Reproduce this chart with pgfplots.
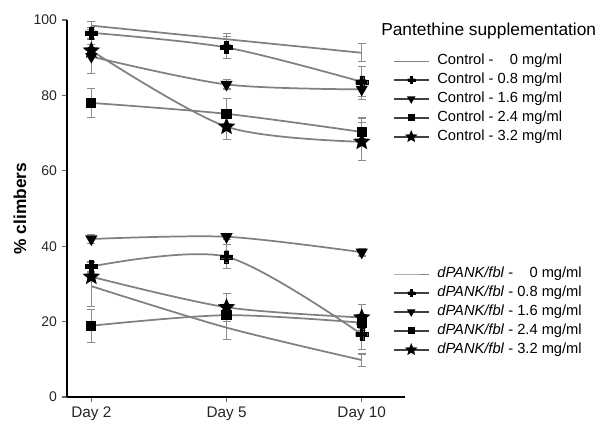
\documentclass[border=0pt]{standalone}
\usepackage{fontspec}
\setmainfont{Liberation Sans}
\usepackage{pgfplots}
\pgfplotsset{compat=1.18}
\definecolor{ln}{RGB}{128,128,128}
\definecolor{eb}{RGB}{140,140,140}

\pgfdeclareplotmark{fstar}{%
 \pgfpathmoveto{\pgfpointpolar{90}{\pgfplotmarksize}}%
 \pgfpathlineto{\pgfpointpolar{126}{0.45\pgfplotmarksize}}%
 \pgfpathlineto{\pgfpointpolar{162}{\pgfplotmarksize}}%
 \pgfpathlineto{\pgfpointpolar{198}{0.45\pgfplotmarksize}}%
 \pgfpathlineto{\pgfpointpolar{234}{\pgfplotmarksize}}%
 \pgfpathlineto{\pgfpointpolar{270}{0.45\pgfplotmarksize}}%
 \pgfpathlineto{\pgfpointpolar{306}{\pgfplotmarksize}}%
 \pgfpathlineto{\pgfpointpolar{342}{0.45\pgfplotmarksize}}%
 \pgfpathlineto{\pgfpointpolar{18}{\pgfplotmarksize}}%
 \pgfpathlineto{\pgfpointpolar{54}{0.45\pgfplotmarksize}}%
 \pgfpathclose\pgfusepathqfillstroke}

\pgfdeclareplotmark{fplus}{%
 \pgfpathmoveto{\pgfpoint{-0.33\pgfplotmarksize}{\pgfplotmarksize}}%
 \pgfpathlineto{\pgfpoint{0.33\pgfplotmarksize}{\pgfplotmarksize}}%
 \pgfpathlineto{\pgfpoint{0.33\pgfplotmarksize}{0.33\pgfplotmarksize}}%
 \pgfpathlineto{\pgfpoint{\pgfplotmarksize}{0.33\pgfplotmarksize}}%
 \pgfpathlineto{\pgfpoint{\pgfplotmarksize}{-0.33\pgfplotmarksize}}%
 \pgfpathlineto{\pgfpoint{0.33\pgfplotmarksize}{-0.33\pgfplotmarksize}}%
 \pgfpathlineto{\pgfpoint{0.33\pgfplotmarksize}{-\pgfplotmarksize}}%
 \pgfpathlineto{\pgfpoint{-0.33\pgfplotmarksize}{-\pgfplotmarksize}}%
 \pgfpathlineto{\pgfpoint{-0.33\pgfplotmarksize}{-0.33\pgfplotmarksize}}%
 \pgfpathlineto{\pgfpoint{-\pgfplotmarksize}{-0.33\pgfplotmarksize}}%
 \pgfpathlineto{\pgfpoint{-\pgfplotmarksize}{0.33\pgfplotmarksize}}%
 \pgfpathlineto{\pgfpoint{-0.33\pgfplotmarksize}{0.33\pgfplotmarksize}}%
 \pgfpathclose\pgfusepathqfillstroke}

\pgfplotsset{
 base/.style={width=253.5pt,height=282.75pt,scale only axis,
   xmin=-0.18,xmax=2.32,ymin=0,ymax=100,
   at={(50.25pt,19.5pt)},anchor=south west,clip=false,
   legend image code/.code={\draw[mark repeat=2,mark phase=2] plot coordinates {(0pt,0pt)(13pt,0pt)(26pt,0pt)};},
   legend style={draw=none,fill=none,inner sep=0pt,
     font=\fontsize{11}{13}\selectfont,row sep=4pt,column sep=6pt,
     nodes={inner sep=0pt,text height=8pt,text depth=2.2pt},
     cells={anchor=west}},
 },
 ser/.style={ln,line width=1.3pt,smooth,forget plot,
   mark options={black,solid},
   error bars/y dir=both, error bars/y explicit,
   error bars/error bar style={eb,line width=0.8pt},
   error bars/error mark options={rotate=90,eb,mark size=3pt,line width=0.8pt}},
 mplus/.style={mark=fplus,mark size=4.5pt,mark options={black,line width=0.3pt}},
 mtri/.style={mark=triangle*,mark size=4pt,mark options={black,rotate=180}},
 msq/.style={mark=square*,mark size=3.2pt,mark options={black}},
 mstar/.style={mark=fstar,mark size=5.2pt,mark options={black}},
 lplus/.style={mark=fplus,mark size=2.7pt,mark options={black,line width=0.2pt}},
 ltri/.style={mark=triangle*,mark size=2.5pt,mark options={black,rotate=180}},
 lsq/.style={mark=square*,mark size=2.1pt,mark options={black}},
 lstar/.style={mark=fstar,mark size=3.4pt,mark options={black}},
 limg/.style={black!75,line width=1.2pt},
}

\begin{document}
\begin{tikzpicture}
\useasboundingbox (0,0) rectangle (450pt,317.25pt);
\begin{axis}[base,
  axis x line=bottom, axis y line=left,
  axis line style={-,black,line width=1.3pt},
  tick align=outside, major tick length=4pt,
  tick style={black!60,line width=0.8pt},
  xtick={0,1,2}, xticklabels={Day 2,Day 5,Day 10},
  ytick={0,20,40,60,80,100},
  /pgf/number format/assume math mode=true,
  xticklabel style={font=\fontsize{11.5}{13}\selectfont,text=black!85},
  yticklabel style={font=\fontsize{10.5}{12}\selectfont,text=black!85},
  ylabel={\% climbers},
  ylabel style={font=\fontsize{13}{15}\selectfont\bfseries,at={(axis description cs:-0.139,0.5)},anchor=center},
  legend style={at={(0.964,0.91)},anchor=north west},
]
\addplot[ser] coordinates {(0,98.5)+-(0,1.0) (1,94.9)+-(0,1.5) (2,91.3)+-(0,2.4)};
\addplot[ser,mplus] coordinates {(0,96.6)+-(0,1.5) (1,92.7)+-(0,2.9) (2,83.6)+-(0,4.0)};
\addplot[ser,mtri] coordinates {(0,90.3)+-(0,4.6) (1,82.9)+-(0,1.2) (2,81.6)+-(0,2.6)};
\addplot[ser,msq] coordinates {(0,78.0)+-(0,3.9) (1,75.1)+-(0,4.0) (2,70.3)+-(0,3.7)};
\addplot[ser,mstar] coordinates {(0,91.9)+-(0,1.5) (1,71.7)+-(0,3.5) (2,67.7)+-(0,5.0)};
\addlegendimage{ln,line width=0.6pt}
\addlegendentry{Control - \hphantom{0.}0 mg/ml}
\addlegendimage{limg,lplus}
\addlegendentry{Control - 0.8 mg/ml}
\addlegendimage{limg,ltri}
\addlegendentry{Control - 1.6 mg/ml}
\addlegendimage{limg,lsq}
\addlegendentry{Control - 2.4 mg/ml}
\addlegendimage{limg,lstar}
\addlegendentry{Control - 3.2 mg/ml}
\end{axis}
\begin{axis}[base,hide axis,
  legend style={at={(0.964,0.345)},anchor=north west},
]
\addplot[ser] coordinates {(0,29.4)+-(0,5.5) (1,18.4)+-(0,3.1) (2,9.8)+-(0,1.6)};
\addplot[ser,mplus] coordinates {(0,34.6)+-(0,1.2) (1,37.2)+-(0,3.2) (2,16.6)+-(0,4.0)};
\addplot[ser,mtri] coordinates {(0,41.9)+-(0,1.3) (1,42.5)+-(0,0.8) (2,38.4)+-(0,1.0)};
\addplot[ser,msq] coordinates {(0,18.9)+-(0,4.4) (1,21.7)+-(0,1.0) (2,19.7)+-(0,1.5)};
\addplot[ser,mstar] coordinates {(0,31.9)+-(0,1.0) (1,23.8)+-(0,3.7) (2,21.1)+-(0,3.5)};
\addlegendimage{ln,line width=0.6pt}
\addlegendentry{\textit{dPANK/fbl} - \hphantom{0.}0 mg/ml}
\addlegendimage{limg,lplus}
\addlegendentry{\textit{dPANK/fbl} - 0.8 mg/ml}
\addlegendimage{limg,ltri}
\addlegendentry{\textit{dPANK/fbl} - 1.6 mg/ml}
\addlegendimage{limg,lsq}
\addlegendentry{\textit{dPANK/fbl} - 2.4 mg/ml}
\addlegendimage{limg,lstar}
\addlegendentry{\textit{dPANK/fbl} - 3.2 mg/ml}
\end{axis}
\node[anchor=west,font=\fontsize{13}{15}\selectfont,inner sep=0pt] at (285.75pt,294pt) {Pantethine supplementation};
\end{tikzpicture}
\end{document}
